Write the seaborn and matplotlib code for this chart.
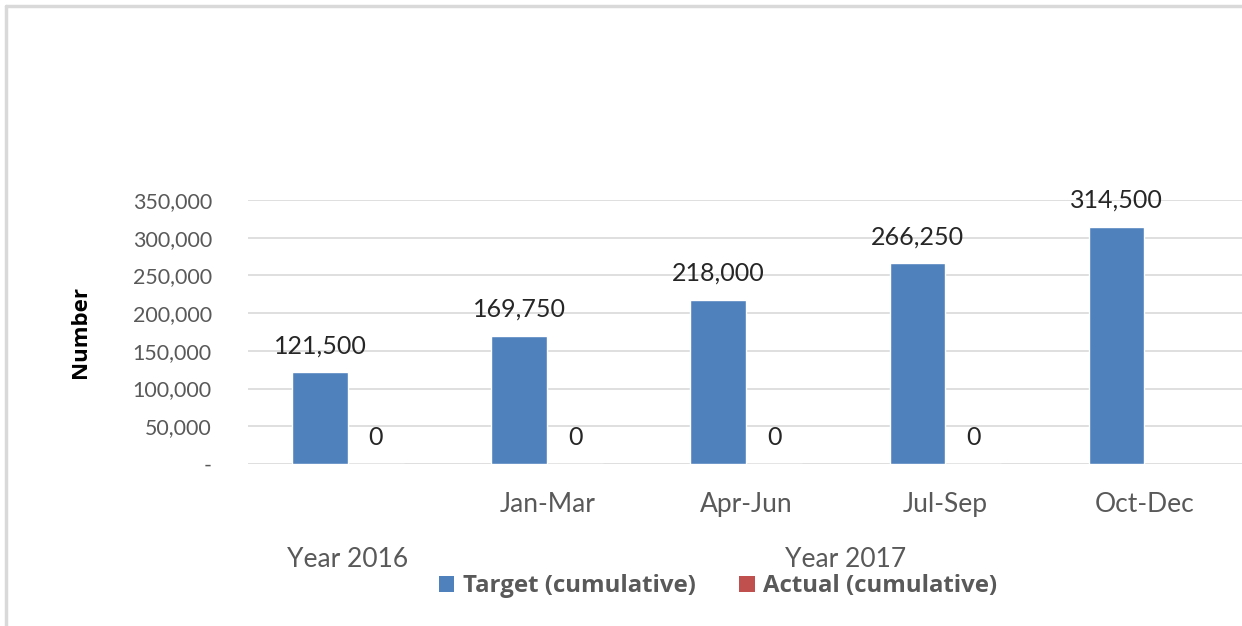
import numpy as np
import pandas as pd
import matplotlib
matplotlib.use("Agg")
import matplotlib.pyplot as plt
from matplotlib.patches import Patch
from matplotlib.lines import Line2D
import seaborn as sns

# ---- data ----
quarters = ["", "Jan-Mar", "Apr-Jun", "Jul-Sep", "Oct-Dec"]
period_keys = ["Y2016", "Q1", "Q2", "Q3", "Q4"]
years = ["Year 2016", "Year 2017"]
series = ["Target (cumulative)", "Actual (cumulative)"]
target = [121500, 169750, 218000, 266250, 314500]
actual = [0, 0, 0, 0, np.nan]
yticks = [0, 50000, 100000, 150000, 200000, 250000, 300000, 350000]

df = pd.DataFrame({
    "period": period_keys * 2,
    "series": [series[0]] * 5 + [series[1]] * 5,
    "value": target + actual,
})

sns.set_theme(style="white")
plt.rcParams["font.family"] = ["Lato", "DejaVu Sans"]
bold_family = ["Open Sans", "DejaVu Sans"]

colors = {series[0]: "#4F81BD", series[1]: "#C0504D"}
grey = "#595959"

fig = plt.figure(figsize=(12.42, 6.26), dpi=100)
ax = fig.add_axes([248 / 1242, 1 - 464 / 626, 1 - 248 / 1242, 264 / 626])

sns.barplot(data=df, x="period", y="value", hue="series", order=period_keys,
            hue_order=series, palette=colors, width=0.56, gap=0,
            saturation=1, ax=ax, legend=False, errorbar=None)

ax.set_ylim(0, 350000)
ax.set_xlim(-0.5025, 4.49)
ax.set_yticks(yticks)
ax.set_yticklabels(["-" if v == 0 else f"{v:,}" for v in yticks],
                   color=grey, fontsize=15.4)
ax.tick_params(axis="y", length=0, pad=26)
ax.tick_params(axis="x", length=0, pad=20)
ax.set_xticks(range(len(quarters)))
ax.set_xticklabels(quarters, color=grey, fontsize=19)
ax.yaxis.grid(True, color="#D9D9D9", linewidth=1.2)
ax.set_axisbelow(True)
for s in ax.spines.values():
    s.set_visible(False)
ax.set_xlabel("")
ax.set_ylabel("Number", fontsize=16, fontweight="bold", color="black",
              family=bold_family)
ax.yaxis.set_label_coords(-(248 - 91) / (1242 - 248), 0.5)

# data labels
for cont in ax.containers:
    for bar in cont:
        h = bar.get_height()
        if np.isnan(h):
            continue
        ax.annotate(f"{int(h):,}", (bar.get_x() + bar.get_width() / 2, h),
                    xytext=(0, 19), textcoords="offset points",
                    ha="center", va="center", fontsize=18, color="#262626")

# second level category labels
trans = ax.get_xaxis_transform()
ax.text(0, -0.363, years[0], transform=trans, ha="center", va="center",
        fontsize=19, color=grey)
ax.text(2.5, -0.363, years[1], transform=trans, ha="center", va="center",
        fontsize=19, color=grey)

# legend
handles = [Patch(facecolor=colors[s], edgecolor="none", label=s) for s in series]
leg = fig.legend(handles=handles, loc="center", bbox_to_anchor=(718 / 1242, 1 - 586 / 626),
                 ncol=2, frameon=False, handlelength=0.65,
                 handleheight=0.65, handletextpad=0.35, columnspacing=1.8,
                 prop={"family": bold_family, "weight": "bold", "size": 17.3})
for t in leg.get_texts():
    t.set_color(grey)

# chart border (top and left visible)
fig.add_artist(Line2D([6 / 1242, 1], [1 - 6 / 626] * 2, transform=fig.transFigure,
                      color="#D9D9D9", linewidth=2.5))
fig.add_artist(Line2D([6 / 1242] * 2, [0, 1 - 6 / 626], transform=fig.transFigure,
                      color="#D9D9D9", linewidth=2.5))

fig.savefig("out.png", dpi=100)
